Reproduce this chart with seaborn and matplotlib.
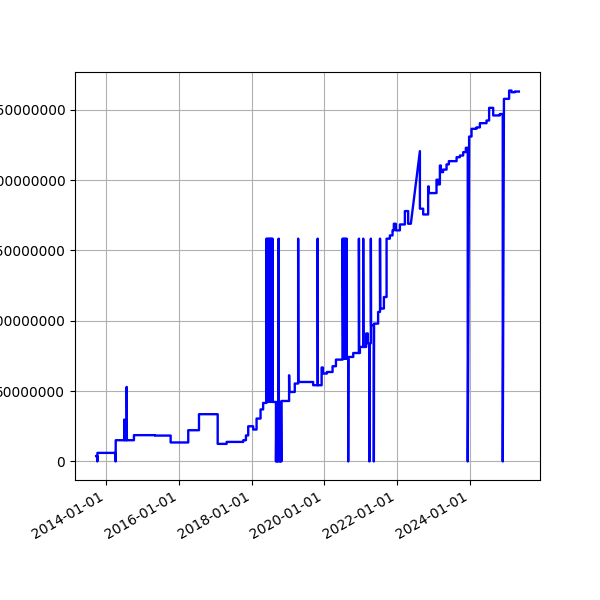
import pandas as pd
import numpy as np
import matplotlib
matplotlib.use('Agg')
import matplotlib.pyplot as plt
import matplotlib.dates as mdates
import seaborn as sns

# 日付と値（百万単位）。段差は同じ日付で2点を並べる
dates = [
    '2013-09-21', '2013-10-03', '2013-10-03', '2013-10-04', '2014-04-05', '2014-04-05', '2014-04-06',
    '2014-07-01', '2014-07-01', '2014-07-03', '2014-07-25', '2014-07-25', '2014-07-27',
    '2014-10-06', '2014-10-06', '2015-05-05', '2015-05-05', '2015-10-10', '2015-10-10',
    '2016-04-04', '2016-04-04', '2016-07-21', '2016-07-21', '2017-01-25', '2017-01-25',
    '2017-04-25', '2017-04-25', '2017-10-09', '2017-10-09', '2017-11-05', '2017-11-05',
    '2017-11-28', '2017-11-28', '2018-01-17', '2018-01-17', '2018-02-20', '2018-02-20',
    '2018-04-01', '2018-04-01', '2018-04-27', '2018-04-27', '2018-05-31',
    '2018-05-31', '2018-06-05', '2018-06-10', '2018-06-15', '2018-06-20', '2018-06-25', '2018-06-30',
    '2018-07-05', '2018-07-10', '2018-07-15', '2018-07-20', '2018-07-25', '2018-07-30', '2018-07-31',
    '2018-09-03',
    '2018-09-03', '2018-09-08', '2018-09-13', '2018-09-18', '2018-09-23', '2018-09-28', '2018-09-30',
    '2018-10-02', '2018-10-07', '2018-10-12', '2018-10-17', '2018-10-22', '2018-10-27', '2018-10-29',
    '2019-01-13', '2019-01-13', '2019-01-15', '2019-03-11', '2019-03-11',
    '2019-04-14', '2019-04-14', '2019-04-16', '2019-09-12', '2019-09-12',
    '2019-10-27', '2019-10-27', '2019-10-29', '2019-12-06', '2019-12-06',
    '2019-12-19', '2019-12-19', '2020-01-28', '2020-01-28', '2020-03-25', '2020-03-25',
    '2020-04-28', '2020-04-28', '2020-07-04',
    '2020-07-04', '2020-07-09', '2020-07-14', '2020-07-19', '2020-07-24', '2020-07-29',
    '2020-08-03', '2020-08-08', '2020-08-13', '2020-08-14',
    '2020-08-29', '2020-08-29', '2020-08-31', '2020-10-19', '2020-10-19',
    '2020-12-15', '2020-12-15', '2020-12-17', '2020-12-25', '2020-12-25',
    '2021-01-27', '2021-01-27', '2021-01-29', '2021-02-26', '2021-02-26',
    '2021-03-15', '2021-03-15', '2021-03-30', '2021-03-30', '2021-04-01',
    '2021-04-14', '2021-04-14', '2021-04-16', '2021-05-14', '2021-05-14', '2021-05-16',
    '2021-06-26', '2021-06-26', '2021-07-15', '2021-07-15', '2021-07-17',
    '2021-08-23', '2021-08-23', '2021-09-19', '2021-09-19', '2021-10-22', '2021-10-22',
    '2021-11-18', '2021-11-18', '2021-12-01', '2021-12-01', '2021-12-21', '2021-12-21',
    '2022-01-31', '2022-01-31', '2022-03-22', '2022-03-22', '2022-04-24', '2022-04-24',
    '2022-05-21', '2022-08-20', '2022-08-20', '2022-09-22', '2022-09-22',
    '2022-11-11', '2022-11-11', '2022-11-18', '2022-11-18', '2023-02-03', '2023-02-03',
    '2023-02-19', '2023-02-19', '2023-03-09', '2023-03-09', '2023-03-19', '2023-03-19',
    '2023-04-10', '2023-04-10', '2023-05-15', '2023-05-15', '2023-06-07', '2023-06-07',
    '2023-08-24', '2023-08-24', '2023-09-26', '2023-09-26', '2023-10-29', '2023-10-29',
    '2023-11-25', '2023-11-25', '2023-12-14', '2023-12-14', '2023-12-28',
    '2024-01-21', '2024-01-21', '2024-03-11', '2024-03-11', '2024-04-14', '2024-04-14',
    '2024-06-20', '2024-06-20', '2024-07-16', '2024-07-16', '2024-08-26', '2024-08-26',
    '2024-11-01', '2024-11-01', '2024-11-30', '2024-11-30', '2024-12-12',
    '2025-02-02', '2025-02-02', '2025-02-26', '2025-02-26', '2025-04-01', '2025-04-01',
    '2025-05-11',
]
values_m = [
    3.8, 3.8, 0, 6.1, 6.1, 0, 15.1,
    15.1, 29.8, 15.1, 15.1, 53.0, 15.1,
    15.1, 18.7, 18.7, 18.4, 18.4, 13.5,
    13.5, 22.2, 22.2, 33.6, 33.6, 12.5,
    12.5, 13.9, 13.9, 15.1, 15.1, 18.5,
    18.5, 25.0, 25.0, 22.7, 22.7, 30.5,
    30.5, 37.0, 37.0, 41.6, 41.6,
    158.4, 42.3, 158.4, 42.3, 158.4, 42.3, 158.4,
    42.3, 158.4, 42.3, 158.4, 42.3, 158.4, 42.3,
    42.3,
    0, 42.3, 0, 42.3, 0, 42.3, 158.4,
    42.3, 0, 42.3, 0, 42.3, 0, 43.0,
    43.0, 61.3, 49.4, 49.4, 55.4,
    55.4, 158.4, 56.5, 56.5, 54.2,
    54.2, 158.4, 54.2, 54.2, 66.8,
    66.8, 62.5, 62.5, 63.6, 63.6, 67.7,
    67.7, 72.4, 72.4,
    158.4, 73.0, 158.4, 73.0, 158.4, 73.0,
    158.4, 73.0, 158.4, 73.0,
    73.0, 0, 74.3, 74.3, 77.1,
    77.1, 158.4, 77.1, 77.1, 81.4,
    81.4, 158.4, 81.4, 81.4, 91.0,
    91.0, 84.0, 84.0, 0, 84.0,
    84.0, 158.4, 96.8, 96.8, 0, 98.0,
    98.0, 106.3, 106.3, 158.4, 108.7,
    108.7, 116.9, 116.9, 158.4, 158.4, 160.7,
    160.7, 164.3, 164.3, 169.0, 169.0, 164.3,
    164.3, 168.5, 168.5, 178.0, 178.0, 169.0,
    169.0, 220.6, 179.7, 179.7, 175.6,
    175.6, 195.5, 195.5, 190.8, 190.8, 200.3,
    200.3, 197.0, 197.0, 210.4, 210.4, 205.7,
    205.7, 207.5, 207.5, 211.2, 211.2, 213.5,
    213.5, 216.3, 216.3, 217.5, 217.5, 219.9,
    219.9, 223.0, 223.0, 0, 231.0,
    231.0, 236.5, 236.5, 237.5, 237.5, 240.5,
    240.5, 242.4, 242.4, 251.4, 251.4, 246.0,
    246.0, 247.0, 247.0, 0, 257.8,
    257.8, 263.7, 263.7, 262.5, 262.5, 263.0,
    263.0,
]

df = pd.DataFrame({'date': pd.to_datetime(dates), 'value': np.array(values_m) * 1e6})

fig, ax = plt.subplots(figsize=(6, 6), dpi=100)
sns.lineplot(data=df, x='date', y='value', sort=False, estimator=None,
             color='blue', linewidth=1.7, ax=ax)
ax.set_xlabel('')
ax.set_ylabel('')
ax.grid(True)
ax.xaxis.set_major_locator(mdates.YearLocator(2))
ax.xaxis.set_major_formatter(mdates.DateFormatter('%Y-%m-%d'))
ax.ticklabel_format(axis='y', style='plain')
fig.autofmt_xdate()
plt.savefig('out.png')
